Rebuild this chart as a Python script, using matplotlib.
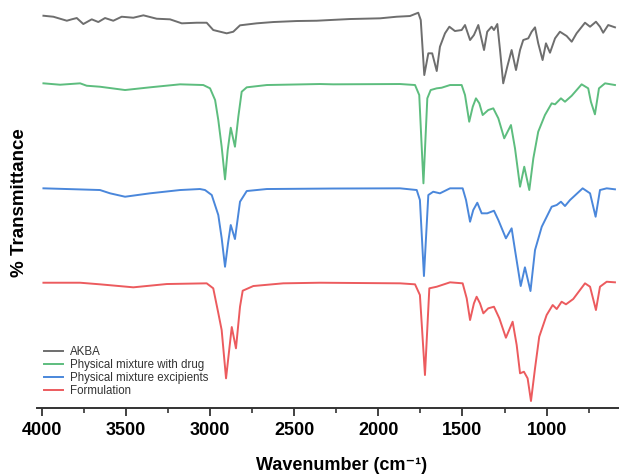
import matplotlib.pyplot as plt
import numpy as np

plt.rcParams['font.family'] = ['Liberation Sans', 'DejaVu Sans']

# Spectra (wavenumber, cm-1) and stacked transmittance (a.u.)
akba_wn = [3990, 3931, 3851, 3822, 3792, 3753, 3703, 3664, 3624, 3575, 3525, 3456,
           3396, 3317, 3238, 3168, 3079, 3020, 2981, 2901, 2862, 2822, 2723, 2624,
           2485, 2366, 2287, 2168, 1990, 1891, 1812, 1763, 1748, 1727, 1703, 1680,
           1653, 1634, 1604, 1578, 1545, 1505, 1485, 1455, 1432, 1406, 1372, 1353,
           1327, 1313, 1293, 1277, 1258, 1234, 1208, 1182, 1158, 1139, 1109, 1089,
           1069, 1050, 1024, 1004, 980, 950, 921, 881, 851, 822, 772, 742, 707, 683,
           664, 634, 594]
akba_t = [392.3, 391.3, 387.3, 388.7, 390, 384, 388.7, 386, 390, 387.3, 391.3, 390.3,
          392.7, 389.3, 388.7, 384.7, 385.3, 385.3, 378, 374.7, 376.3, 382.7, 384.7, 386,
          387, 387.3, 388, 389, 389.7, 391.3, 392, 395.3, 388, 333, 354.7, 354.7,
          337, 361.3, 374.7, 381.3, 377, 378, 383, 368, 373, 383, 358, 376.3,
          381.3, 378, 384, 358, 324.7, 341.3, 358, 338, 358, 368, 369.7, 376.3,
          380.7, 364.7, 348, 364.7, 355.3, 369.7, 376.3, 372, 366.3, 374.7, 385.3, 381.3,
          386.3, 381.3, 375.3, 383, 380.7]

drug_wn = [3990, 3891, 3772, 3733, 3654, 3505, 3357, 3178, 3040, 3000, 2970, 2951,
           2931, 2911, 2895, 2877, 2852, 2832, 2812, 2782, 2663, 2347, 2269, 1871,
           1782, 1757, 1732, 1709, 1689, 1653, 1624, 1574, 1505, 1485, 1460, 1439,
           1420, 1400, 1380, 1347, 1317, 1287, 1252, 1212, 1188, 1158, 1133, 1103,
           1079, 1050, 1010, 970, 950, 915, 891, 851, 792, 753, 737, 713, 689, 653, 594]
drug_t = [324.7, 323.3, 324.7, 322.3, 321.3, 318, 320.7, 323.7, 323, 319.7, 308, 288,
          261.3, 228.7, 258, 280.3, 261.3, 291.3, 316.3, 320.7, 323, 324, 323.7, 324,
          323, 313, 224.7, 309.7, 318, 319.7, 320.3, 323, 323, 313, 286.3, 301.3,
          309.7, 304.7, 293, 298, 299.7, 289.7, 269.7, 283, 259.7, 221.3, 241.3, 218,
          249.7, 276.3, 293, 304.7, 303.7, 309.7, 306.3, 312.3, 323.7, 319.7, 306.3,
          293.7, 319.7, 324.7, 323]

exc_wn = [3990, 3654, 3594, 3505, 3357, 3178, 3060, 3030, 2990, 2951, 2931, 2911,
          2893, 2877, 2852, 2822, 2782, 2663, 2269, 1871, 1772, 1753, 1729, 1703,
          1674, 1634, 1574, 1499, 1479, 1455, 1436, 1412, 1386, 1353, 1313, 1287,
          1242, 1208, 1188, 1154, 1129, 1096, 1069, 1029, 970, 940, 915, 891, 861,
          786, 742, 709, 683, 643, 594]
exc_t = [219.7, 218, 214.7, 211.3, 214.7, 218, 219, 218, 213, 193, 170, 141.3,
         165, 183, 169, 206.3, 217, 219, 219.5, 219.7, 218, 208, 132, 213,
         216.3, 214.7, 219.7, 219.7, 208, 186.3, 198, 205.3, 194.7, 194.7, 197.3, 188,
         169.7, 179.7, 158, 122, 140.7, 117, 158, 181.3, 201.3, 203, 206.3, 202, 208,
         219.7, 214.7, 191.3, 218, 219.7, 218.7]

form_wn = [3990, 3772, 3654, 3456, 3257, 3020, 2981, 2951, 2931, 2905, 2871, 2846,
           2822, 2806, 2743, 2565, 2347, 1871, 1782, 1753, 1723, 1697, 1653, 1574,
           1499, 1475, 1455, 1432, 1416, 1396, 1376, 1347, 1313, 1281, 1242, 1202,
           1178, 1158, 1135, 1113, 1093, 1069, 1044, 1000, 964, 940, 911, 885, 842,
           772, 742, 707, 683, 643, 594]
form_t = [125.3, 125.3, 123.7, 120.7, 124, 124.7, 119.7, 95, 78, 29.7, 81, 59.7,
          101.3, 117.3, 122, 124.7, 125.3, 124.7, 123.7, 113, 33, 119.7, 121.3, 125.7,
          124.7, 109.7, 88, 104.7, 111.3, 104.7, 94.7, 99.7, 101.3, 89.7, 70.3, 86.3,
          63, 34.7, 36.3, 29.7, 7, 39.7, 71.3, 93, 103, 99, 106.3, 103.7, 109,
          124.7, 121.3, 98, 121.3, 126.3, 125.7]

labels = ['AKBA', 'Physical mixture with drug', 'Physical mixture excipients', 'Formulation']
colors = ['#6e6e6e', '#5dbd7e', '#4a87db', '#ec5b5e']

fig = plt.figure(figsize=(6.19, 4.75), dpi=100)
ax = fig.add_axes([0.0593, 0.141, 0.9407, 0.8421])

series = [(akba_wn, akba_t), (drug_wn, drug_t), (exc_wn, exc_t), (form_wn, form_t)]
for (wn, t), lab, col in zip(series, labels, colors):
    ax.plot(wn, t, color=col, lw=1.4, label=lab, solid_joinstyle='round')

ax.set_xlim(4030, 570)
ax.set_ylim(0, 400)
ax.set_xticks([4000, 3500, 3000, 2500, 2000, 1500, 1000])
ax.set_xticks(np.arange(3750, 600, -500), minor=True)
ax.set_yticks([])
for s in ['top', 'right', 'left']:
    ax.spines[s].set_visible(False)
ax.spines['bottom'].set_linewidth(1.4)
ax.spines['bottom'].set_color('#333333')
ax.tick_params(axis='x', which='major', length=6, width=1.3, color='#333333',
               labelsize=13, pad=4)
ax.tick_params(axis='x', which='minor', length=3.5, width=1.2, color='#333333')
for lbl in ax.get_xticklabels():
    lbl.set_fontweight('bold')

fig.text(0.5525, 1 - 465 / 475, 'Wavenumber (cm\u207b\u00b9)', fontsize=13, fontweight='bold',
         ha='center', va='center')
fig.text(0.032, 0.574, '% Transmittance', rotation=90, fontsize=13.5, fontweight='bold',
         ha='center', va='center')

leg = ax.legend(loc='lower left', bbox_to_anchor=(0.0, 0.01), frameon=False, fontsize=8.3,
                handlelength=1.7, handletextpad=0.6, labelspacing=0.08, borderaxespad=0.2)
for txt in leg.get_texts():
    txt.set_color('#333333')

fig.savefig('out.png', dpi=100)
